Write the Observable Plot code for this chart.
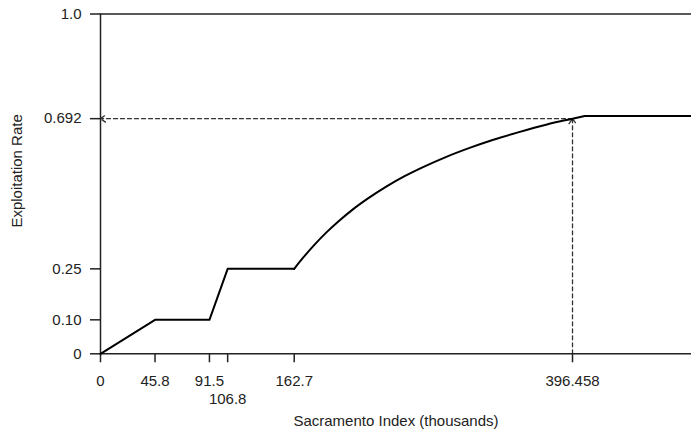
<!DOCTYPE html>
<html>
<head>
<meta charset="utf-8">
<script src="https://cdn.jsdelivr.net/npm/d3@7"></script>
<script src="https://cdn.jsdelivr.net/npm/@observablehq/plot@0.6"></script>
<style>
  body { margin: 0; background: #fff; }
  #chart svg { display: block; }
</style>
</head>
<body>
<div id="chart"></div>
<script>
// Piecewise-linear part of the control rule
const stepX = [0, 45.8, 91.5, 106.8, 162.7];
const stepY = [0, 0.10, 0.10, 0.25, 0.25];
// Curved part
const curveX = [162.7, 170, 180, 190, 200, 212, 225, 240, 255, 270, 290, 310, 330, 350, 375, 396.458, 406.7];
const curveY = [0.250, 0.282, 0.322, 0.358, 0.390, 0.425, 0.458, 0.492, 0.522, 0.548, 0.579, 0.606, 0.630, 0.651, 0.675, 0.692, 0.700];
// Plateau (cap)
const capX = [406.7, 496.4];
const capY = [0.70, 0.70];
// Reference point
const refX = 396.458;
const refY = 0.692;
// Ticks
const xTicks = [0, 45.8, 91.5, 106.8, 162.7, 396.458];
const xTickLabels = ["0", "45.8", "91.5", "", "162.7", "396.458"];
const xLowTicks = [106.8];
const xLowTickLabels = ["106.8"];
const yTicks = [0, 0.10, 0.25, 0.692, 1.0];
const yTickLabels = ["0", "0.10", "0.25", "0.692", "1.0"];
const xTitle = "Sacramento Index (thousands)";
const yTitle = "Exploitation Rate";

const steps = stepX.map((x, i) => ({x, y: stepY[i]}));
const curve = curveX.map((x, i) => ({x, y: curveY[i]}));
const cap = capX.map((x, i) => ({x, y: capY[i]}));

const ink = "#222";

const chart = Plot.plot({
  width: 691,
  height: 430,
  marginLeft: 100,
  marginRight: 0,
  marginTop: 13.5,
  marginBottom: 76.7,
  style: {fontFamily: "Liberation Sans, Arial, sans-serif", fontSize: "15px", color: ink, background: "#fff"},
  x: {domain: [0, 496.4]},
  y: {domain: [0, 1]},
  marks: [
    // dashed guide lines with small arrowheads
    Plot.arrow([{x1: refX, y1: 0, x2: refX, y2: refY}], {
      x1: "x1", y1: "y1", x2: "x2", y2: "y2",
      stroke: "#333", strokeWidth: 1.3, strokeDasharray: "4,3", headLength: 7, headAngle: 70
    }),
    Plot.arrow([{x1: refX, y1: refY, x2: 0, y2: refY}], {
      x1: "x1", y1: "y1", x2: "x2", y2: "y2",
      stroke: "#333", strokeWidth: 1.3, strokeDasharray: "4,3", headLength: 7, headAngle: 70
    }),
    // frame lines
    Plot.ruleY([0], {stroke: ink, strokeWidth: 1.5}),
    Plot.ruleY([1], {stroke: ink, strokeWidth: 1.5}),
    Plot.ruleX([0], {stroke: ink, strokeWidth: 1.5}),
    // axes
    Plot.axisY({
      ticks: yTicks, tickSize: 10, tickPadding: 9, strokeWidth: 1.5,
      tickFormat: d => yTickLabels[yTicks.indexOf(d)], label: null
    }),
    Plot.axisX({
      ticks: xTicks, tickSize: 9, tickPadding: 13, strokeWidth: 1.5,
      tickFormat: d => xTickLabels[xTicks.indexOf(d)], label: null
    }),
    // staggered tick label
    Plot.text(xLowTicks, {
      x: d => d, text: (d, i) => xLowTickLabels[i],
      frameAnchor: "bottom", lineAnchor: "middle", dy: 45, fill: ink, fontSize: 15
    }),
    // control rule
    Plot.line(steps, {x: "x", y: "y", stroke: "#000", strokeWidth: 2}),
    Plot.line(curve, {x: "x", y: "y", stroke: "#000", strokeWidth: 2, curve: "monotone-x"}),
    Plot.line(cap, {x: "x", y: "y", stroke: "#000", strokeWidth: 2}),
    // titles
    Plot.text([xTitle], {text: d => d, frameAnchor: "bottom", lineAnchor: "middle", dy: 67, fill: ink, fontSize: 15}),
    Plot.text([yTitle], {text: d => d, frameAnchor: "left", textAnchor: "middle", lineAnchor: "middle", dx: -83, dy: -13, rotate: -90, fill: ink, fontSize: 15})
  ]
});
document.getElementById("chart").appendChild(chart);
</script>
</body>
</html>
